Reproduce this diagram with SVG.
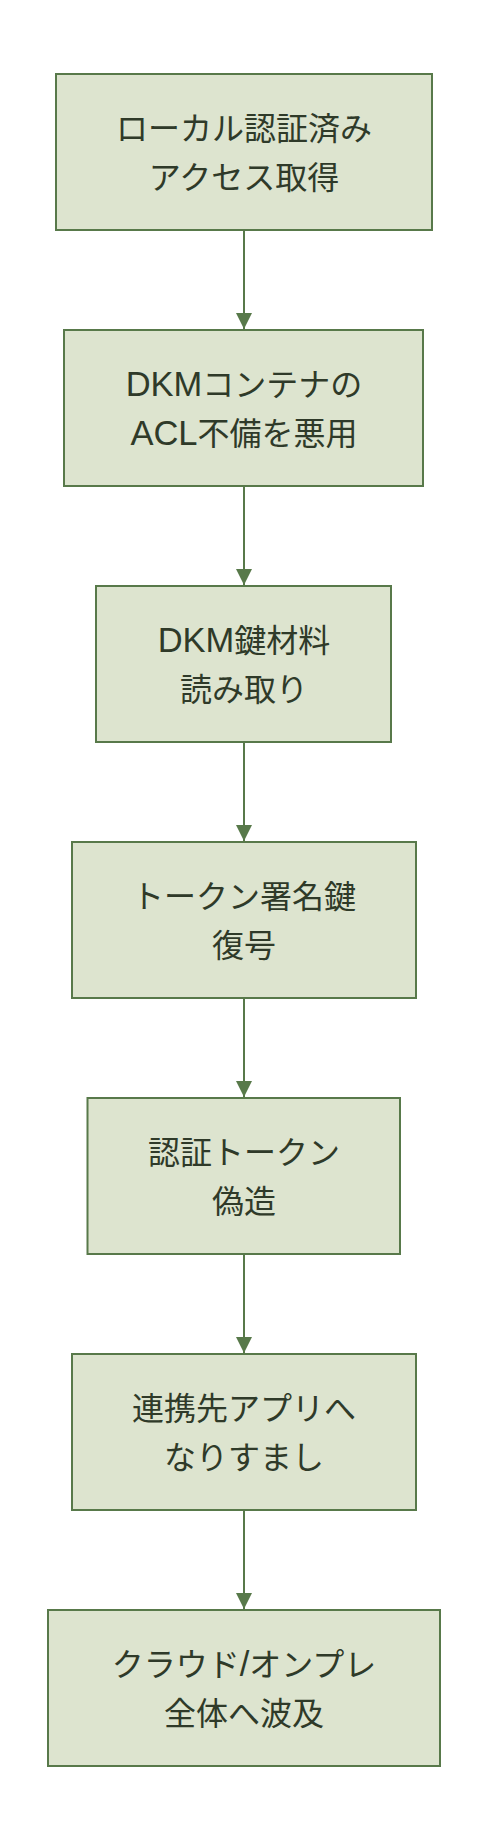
<svg xmlns="http://www.w3.org/2000/svg" width="488" height="1844" viewBox="0 0 488 1844">
<style>
.node rect{fill:#dde4cf;stroke:#58794a;stroke-width:2}
.node text{font-family:"Liberation Sans","Noto Sans CJK JP",sans-serif;font-size:32px;fill:#2f3a29;text-anchor:middle}
.node .lat{font-size:34.5px}
.edge{stroke:#58794a;stroke-width:2;fill:none}
</style>
<defs>
<marker id="arr" viewBox="0 0 16 16" refX="16" refY="8" markerWidth="16" markerHeight="16" markerUnits="userSpaceOnUse" orient="auto">
<path d="M0,0 L16,8 L0,16 Z" fill="#58794a"/>
</marker>
</defs>
<rect width="488" height="1844" fill="#ffffff"/>
<g id="connectors">
<line class="edge" x1="244" y1="230" x2="244" y2="329" marker-end="url(#arr)"/>
<line class="edge" x1="244" y1="486" x2="244" y2="585" marker-end="url(#arr)"/>
<line class="edge" x1="244" y1="742" x2="244" y2="841" marker-end="url(#arr)"/>
<line class="edge" x1="244" y1="998" x2="244" y2="1097" marker-end="url(#arr)"/>
<line class="edge" x1="244" y1="1254" x2="244" y2="1353" marker-end="url(#arr)"/>
<line class="edge" x1="244" y1="1510" x2="244" y2="1609" marker-end="url(#arr)"/>
</g>
<g id="n1" class="node"><rect x="56" y="74" width="376" height="156"/><text x="244" y="140">ローカル認証済み</text><text x="244" y="189">アクセス取得</text></g>
<g id="n2" class="node"><rect x="64" y="330" width="359" height="156"/><text x="244" y="396"><tspan class="lat">DKM</tspan>コンテナの</text><text x="244" y="445"><tspan class="lat">ACL</tspan>不備を悪用</text></g>
<g id="n3" class="node"><rect x="96" y="586" width="295" height="156"/><text x="244" y="652"><tspan class="lat">DKM</tspan>鍵材料</text><text x="244" y="701">読み取り</text></g>
<g id="n4" class="node"><rect x="72" y="842" width="344" height="156"/><text x="244" y="908">トークン署名鍵</text><text x="244" y="957">復号</text></g>
<g id="n5" class="node"><rect x="87.5" y="1098" width="312.5" height="156"/><text x="244" y="1164">認証トークン</text><text x="244" y="1213">偽造</text></g>
<g id="n6" class="node"><rect x="72" y="1354" width="344" height="156"/><text x="244" y="1420">連携先アプリへ</text><text x="244" y="1469">なりすまし</text></g>
<g id="n7" class="node"><rect x="48" y="1610" width="392" height="156"/><text x="244" y="1676">クラウド<tspan class="lat">/</tspan>オンプレ</text><text x="244" y="1725">全体へ波及</text></g>
</svg>
